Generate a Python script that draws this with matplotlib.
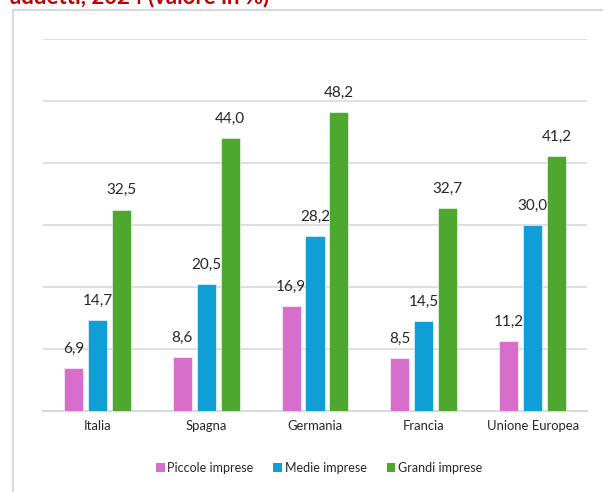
import matplotlib.pyplot as plt
from matplotlib.patches import Rectangle, Patch
import numpy as np

# data
paesi = ["Italia", "Spagna", "Germania", "Francia", "Unione Europea"]
piccole = [6.9, 8.6, 16.9, 8.5, 11.2]
medie = [14.7, 20.5, 28.2, 14.5, 30.0]
grandi = [32.5, 44.0, 48.2, 32.7, 41.2]
serie_nomi = ["Piccole imprese", "Medie imprese", "Grandi imprese"]
titolo = "addetti, 2024 (valore in %)"

colors = ["#D86ECC", "#0F9ED5", "#4EA72E"]
grid_col = "#D9D9D9"
plt.rcParams["font.family"] = ["Lato", "DejaVu Sans"]

W, H = 603, 492
fig = plt.figure(figsize=(W / 100, H / 100), dpi=100)

# chart area border (cut off on right and bottom)
fig.patches.append(Rectangle((13 / W, -0.1), 1.2, 1 - 10 / H + 0.1,
                             transform=fig.transFigure, fill=False,
                             edgecolor=grid_col, linewidth=1.5))
# title, mostly cut off at the top of the picture
fig.text(10 / W, 1 - 3 / H, titolo, color="#C00000", fontsize=16,
         fontweight="bold", va="baseline", ha="left")

ax = fig.add_axes([43 / W, 1 - 410.7 / H, 544 / W, (410.7 - 39.3) / H])
x = np.arange(len(paesi))
bw = 0.175
step = 0.22
for i, vals in enumerate([piccole, medie, grandi]):
    pos = x + (i - 1) * step
    ax.bar(pos, vals, width=bw, color=colors[i], edgecolor="white",
           linewidth=0.4, zorder=3)
    for xp, v in zip(pos, vals):
        ax.annotate(f"{v:.1f}".replace(".", ","), (xp, v), xytext=(0, 11),
                    textcoords="offset points", ha="center", va="baseline",
                    fontsize=11, color="#262626")

ax.set_xlim(-0.5, len(paesi) - 0.5)
ax.set_ylim(0, 60)
ax.set_yticks(np.arange(0, 61, 10))
ax.yaxis.grid(True, color=grid_col, linewidth=1.2, zorder=0)
ax.set_yticklabels([])
ax.tick_params(axis="y", length=0)
ax.set_xticks(x)
ax.set_xticklabels(paesi, fontsize=9.4, color="#262626")
ax.tick_params(axis="x", length=0, pad=7)
for s in ["top", "right", "left"]:
    ax.spines[s].set_visible(False)
ax.spines["bottom"].set_color(grid_col)
ax.spines["bottom"].set_linewidth(1.5)
ax.set_axisbelow(True)

handles = [Patch(facecolor=c, edgecolor="none") for c in colors]
fig.legend(handles, serie_nomi, loc="center", bbox_to_anchor=(319 / W, 1 - 468 / H),
           ncol=3, frameon=False, fontsize=9, handlelength=0.7, handleheight=0.7,
           handletextpad=0.2, columnspacing=1.6, labelcolor="#262626")

fig.savefig("out.png", dpi=100)
